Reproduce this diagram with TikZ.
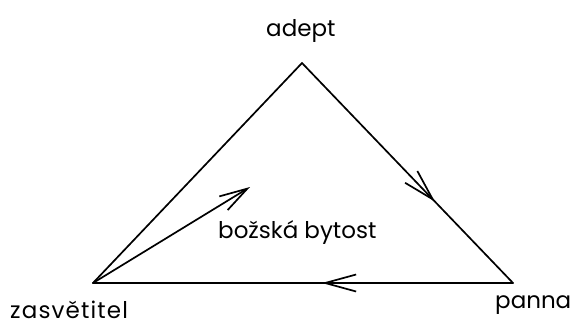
\documentclass[tikz,border=0pt]{standalone}
\usepackage{fontspec}
\setmainfont{Poppins}
\usetikzlibrary{arrows.meta,decorations.markings}
\begin{document}
\begin{tikzpicture}[x=1pt,y=-1pt,
  edge/.style={line width=1.7pt, line cap=round},
  midarrow/.style={postaction={decorate,decoration={markings,
      mark=at position #1 with {\arrow{Straight Barb[length=31pt,width=17pt,line width=1.7pt]}}}}},
  lbl/.style={font=\fontsize{23}{26}\selectfont, inner sep=0pt, anchor=base west}]
  \useasboundingbox (0,0) rectangle (570,325);
  \coordinate (adeptV) at (302,63);
  \coordinate (zasV) at (93,283);
  \coordinate (pannaV) at (513,283);
  \coordinate (bozTip) at (250,187);
  % triangle sides, with direction marks
  \draw[edge] (zasV) -- (adeptV);
  \draw[edge, midarrow=0.63] (adeptV) -- (pannaV);
  \draw[edge, midarrow=0.455] (pannaV) -- (zasV);
  \draw[edge, -{Straight Barb[length=28pt,width=16pt,line width=1.7pt]}] (zasV) -- (bozTip);
  % labels
  \node[lbl] (adept) at (266,36) {adept};
  \node[lbl] (boz) at (218,238) {božská bytost};
  \node[lbl] (zas) at (10,318) {\addfontfeatures{LetterSpace=5}zasvětitel};
  \node[lbl] (panna) at (495,308) {panna};
\end{tikzpicture}
\end{document}
